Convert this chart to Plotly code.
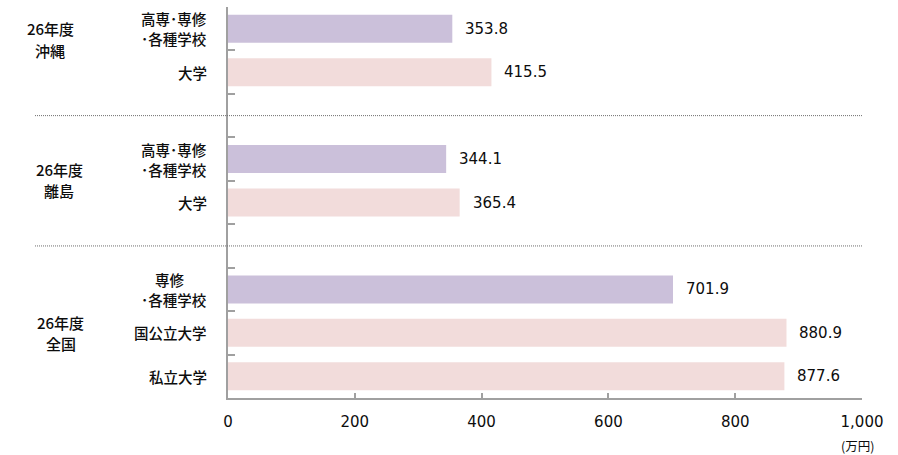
import plotly.graph_objects as go

# ---------------- data ----------------
group_names = ["26年度<br>沖縄", "26年度<br>離島", "26年度<br>全国"]

okinawa_labels = ["高専･専修<br>･各種学校", "大学"]
okinawa_values = [353.8, 415.5]
okinawa_kinds = ["senmon", "daigaku"]

ritou_labels = ["高専･専修<br>･各種学校", "大学"]
ritou_values = [344.1, 365.4]
ritou_kinds = ["senmon", "daigaku"]

zenkoku_labels = ["専修<br>･各種学校", "国公立大学", "私立大学"]
zenkoku_values = [701.9, 880.9, 877.6]
zenkoku_kinds = ["senmon", "daigaku", "daigaku"]

x_tick_values = [0, 200, 400, 600, 800, 1000]
x_tick_labels = ["0", "200", "400", "600", "800", "1,000"]
unit_label = "(万円)"

# ---------------- styles ----------------
kind_colors = {"senmon": "#CBC0DA", "daigaku": "#F2DCDB"}
JP_FONT = "Noto Sans CJK JP"
NUM_FONT = "DejaVu Sans"
AXIS_COLOR = "#A0A0A0"
TEXT_COLOR = "#0d0d0d"
JP_SIZE = 14.5
JP_WEIGHT = 500
PLOT_L, PLOT_R = 228, 862
PLOT_W = PLOT_R - PLOT_L
group_label_center_px = [50, 59, 61]
group_label_yshift = [11, 1, 0]
bar_label_line_gap = 20
group_label_line_gap = 21.5

groups = [
    (okinawa_labels, okinawa_values, okinawa_kinds),
    (ritou_labels, ritou_values, ritou_kinds),
    (zenkoku_labels, zenkoku_values, zenkoku_kinds),
]

# build slot layout (one empty slot between groups)
bar_pos, bar_vals, bar_cols, bar_labels = [], [], [], []
group_centers, divider_pos = [], []
slot = 0
for gi, (labels, values, kinds) in enumerate(groups):
    start = slot
    for lab, val, kind in zip(labels, values, kinds):
        bar_pos.append(slot)
        bar_vals.append(val)
        bar_cols.append(kind_colors[kind])
        bar_labels.append(lab)
        slot += 1
    group_centers.append((start + slot - 1) / 2)
    if gi < len(groups) - 1:
        divider_pos.append(slot)
        slot += 1
n_slots = slot

fig = go.Figure()
fig.add_trace(go.Bar(
    x=bar_vals, y=bar_pos, orientation="h",
    marker=dict(color=bar_cols, line=dict(width=0)),
    width=0.645, hoverinfo="x",
))

annotations = []

# category labels: right-aligned block, each line centered on the block
for p, lab in zip(bar_pos, bar_labels):
    lines = lab.split("<br>")
    longest = max(len(l) for l in lines)
    n = len(lines)
    for i, line in enumerate(lines):
        pad = (longest - len(line)) * JP_SIZE / 2
        annotations.append(dict(
            x=0, xref="paper", y=p, yref="y", text=line, showarrow=False,
            xanchor="right", yanchor="middle", xshift=-19 - pad,
            yshift=-(i - (n - 1) / 2) * bar_label_line_gap,
            font=dict(family=JP_FONT, size=JP_SIZE, color=TEXT_COLOR, weight=JP_WEIGHT),
        ))

# value labels
for p, v in zip(bar_pos, bar_vals):
    annotations.append(dict(
        x=v, xref="x", y=p, yref="y", text=f"{v:.1f}", showarrow=False,
        xanchor="left", yanchor="middle", xshift=11,
        font=dict(family=NUM_FONT, size=15, color=TEXT_COLOR),
    ))

# group labels
for gname, gc, cx, dy in zip(group_names, group_centers, group_label_center_px, group_label_yshift):
    lines = gname.split("<br>")
    n = len(lines)
    for i, line in enumerate(lines):
        annotations.append(dict(
            x=(cx - PLOT_L) / PLOT_W, xref="paper", y=gc, yref="y", text=line,
            showarrow=False, xanchor="center", yanchor="middle",
            yshift=dy - (i - (n - 1) / 2) * group_label_line_gap,
            font=dict(family=JP_FONT, size=JP_SIZE + 0.5, color=TEXT_COLOR, weight=JP_WEIGHT),
        ))

annotations.append(dict(
    x=(857 - PLOT_L) / PLOT_W, xref="paper", y=0, yref="paper", yshift=-47,
    text=unit_label, showarrow=False, xanchor="center", yanchor="middle",
    font=dict(family=JP_FONT, size=12.5, color=TEXT_COLOR),
))

shapes = []
for d in divider_pos:
    shapes.append(dict(
        type="line", xref="paper", x0=(35 - PLOT_L) / PLOT_W, x1=1,
        yref="y", y0=d, y1=d,
        line=dict(color="#6f6f6f", width=1, dash="1px,1px"),
    ))

fig.update_layout(
    width=898, height=455,
    margin=dict(l=PLOT_L, r=898 - PLOT_R, t=7, b=57),
    paper_bgcolor="white", plot_bgcolor="white",
    showlegend=False,
    annotations=annotations, shapes=shapes,
    xaxis=dict(
        range=[0, 1000], tickvals=x_tick_values, ticktext=x_tick_labels,
        ticks="inside", ticklen=5, tickwidth=1.5, tickcolor=AXIS_COLOR,
        showline=True, linecolor=AXIS_COLOR, linewidth=2,
        showgrid=False, zeroline=False, ticklabelstandoff=9,
        tickfont=dict(family=NUM_FONT, size=15, color=TEXT_COLOR),
    ),
    yaxis=dict(
        range=[n_slots - 0.5, -0.5],
        tickvals=[i - 0.5 for i in range(n_slots + 1)],
        ticks="inside", ticklen=7, tickwidth=1.5, tickcolor=AXIS_COLOR,
        showticklabels=False,
        showline=True, linecolor=AXIS_COLOR, linewidth=2,
        showgrid=False, zeroline=False,
    ),
)

fig.write_html("out.html")
